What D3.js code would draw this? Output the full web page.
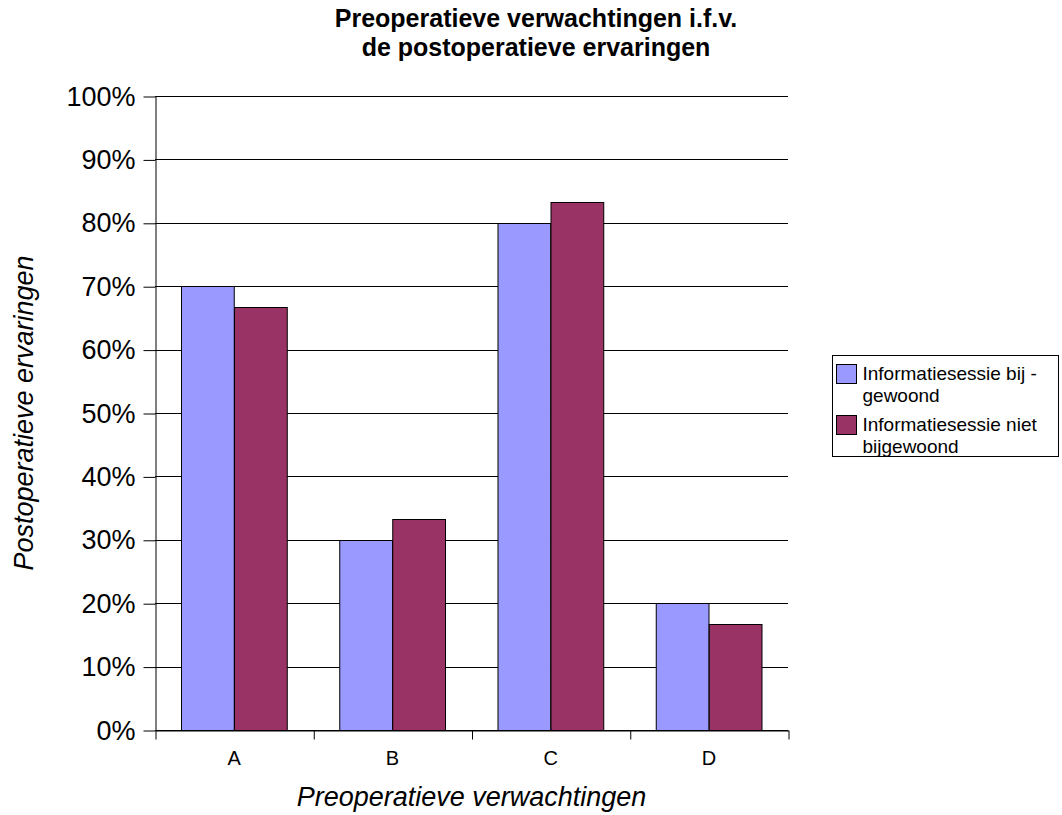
<!DOCTYPE html>
<html>
<head>
<meta charset="utf-8">
<script src="https://cdn.jsdelivr.net/npm/d3@7"></script>
<style>
  html, body { margin: 0; padding: 0; background: #fff; }
  svg { display: block; font-family: "Liberation Sans", Arial, sans-serif; }
</style>
</head>
<body>
<svg id="chart" width="1062" height="815"></svg>
<script>
// Categories of preoperative expectation
const categories = ["A", "B", "C", "D"];
// Series names (legend lines split as displayed)
const seriesNames = ["Informatiesessie bijgewoond", "Informatiesessie niet bijgewoond"];
const legendLines = [["Informatiesessie bij -", "gewoond"], ["Informatiesessie niet", "bijgewoond"]];
// Share per category, per series
const attended = [0.70, 0.30, 0.80, 0.20];
const notAttended = [0.6667, 0.3333, 0.8333, 0.1667];
// Y-axis tick values
const yTicks = [0, 0.1, 0.2, 0.3, 0.4, 0.5, 0.6, 0.7, 0.8, 0.9, 1.0];
const seriesColors = ["#9999FF", "#993366"];

const svg = d3.select("#chart");
const plot = { left: 155, right: 788, top: 96, bottom: 730 };

const y = d3.scaleLinear().domain([0, 1]).range([plot.bottom, plot.top]);
const x = d3.scaleBand().domain(categories).range([plot.left, plot.right]).padding(0);
const bw = x.bandwidth();
const xs = d3.scaleBand().domain([0, 1]).range([bw / 6, bw * 5 / 6]).padding(0);

// Horizontal gridlines
svg.append("g")
  .selectAll("line")
  .data(yTicks)
  .join("line")
  .attr("x1", plot.left)
  .attr("x2", plot.right)
  .attr("y1", d => Math.round(y(d)) + 0.5)
  .attr("y2", d => Math.round(y(d)) + 0.5)
  .attr("stroke", "#000")
  .attr("stroke-width", 1);

// Bars
const rows = categories.map((c, i) => ({ cat: c, values: [attended[i], notAttended[i]] }));
svg.append("g")
  .selectAll("g")
  .data(rows)
  .join("g")
  .attr("transform", d => `translate(${x(d.cat)},0)`)
  .selectAll("rect")
  .data(d => d.values.map((v, k) => ({ v, k })))
  .join("rect")
  .attr("x", d => Math.round(xs(d.k)) + 0.5)
  .attr("y", d => Math.round(y(d.v)) + 0.5)
  .attr("width", xs.bandwidth())
  .attr("height", d => Math.round(y(0)) - Math.round(y(d.v)))
  .attr("fill", d => seriesColors[d.k])
  .attr("stroke", "#000")
  .attr("stroke-width", 1);

// Y axis
const yAxis = svg.append("g")
  .attr("transform", `translate(${plot.left + 0.5},0.5)`)
  .call(d3.axisLeft(y).tickValues(yTicks).tickFormat(d3.format(".0%")).tickSize(12).tickPadding(8).tickSizeOuter(0));
yAxis.selectAll("text").attr("font-size", 27).attr("fill", "#000").attr("font-family", "Liberation Sans, Arial, sans-serif");
yAxis.selectAll("line, path").attr("stroke", "#000");

// X axis: boundary ticks
const xb = d3.scaleLinear().domain([0, categories.length]).range([plot.left, plot.right]);
const xAxisTicks = svg.append("g")
  .attr("transform", `translate(0.5,${plot.bottom + 0.5})`)
  .call(d3.axisBottom(xb).tickValues(d3.range(categories.length + 1)).tickFormat("").tickSize(9).tickSizeOuter(0));
xAxisTicks.selectAll("line, path").attr("stroke", "#000");

// X axis: category labels
const xAxis = svg.append("g")
  .attr("transform", `translate(0,${plot.bottom})`)
  .call(d3.axisBottom(x).tickSize(0).tickPadding(21));
xAxis.select("path").remove();
xAxis.selectAll("text").attr("font-size", 20).attr("fill", "#000").attr("font-family", "Liberation Sans, Arial, sans-serif");

// Title
const title = svg.append("text")
  .attr("text-anchor", "middle")
  .attr("font-size", 25)
  .attr("font-weight", "bold")
  .attr("fill", "#000");
title.append("tspan").attr("x", 536).attr("y", 27).text("Preoperatieve verwachtingen i.f.v.");
title.append("tspan").attr("x", 536).attr("y", 56).text("de postoperatieve ervaringen");

// Axis titles
svg.append("text")
  .attr("x", (plot.left + plot.right) / 2)
  .attr("y", 806)
  .attr("text-anchor", "middle")
  .attr("font-size", 27)
  .attr("font-style", "italic")
  .attr("fill", "#000")
  .text("Preoperatieve verwachtingen");

svg.append("text")
  .attr("transform", `translate(33,${(plot.top + plot.bottom) / 2}) rotate(-90)`)
  .attr("text-anchor", "middle")
  .attr("font-size", 27)
  .attr("font-style", "italic")
  .attr("fill", "#000")
  .text("Postoperatieve ervaringen");

// Legend
const legend = svg.append("g").attr("transform", "translate(832.5,355.5)");
legend.append("rect")
  .attr("width", 226).attr("height", 101)
  .attr("fill", "#fff").attr("stroke", "#000");
const entryY = [0, 51];
seriesNames.forEach((name, i) => {
  const g = legend.append("g").attr("transform", `translate(0,${entryY[i]})`);
  g.append("rect")
    .attr("x", 4).attr("y", 9)
    .attr("width", 20).attr("height", 19)
    .attr("fill", seriesColors[i]).attr("stroke", "#000");
  const t = g.append("text").attr("font-size", 19).attr("fill", "#000");
  legendLines[i].forEach((line, j) => {
    t.append("tspan").attr("x", 30).attr("y", 24.5 + j * 22).text(line);
  });
});
</script>
</body>
</html>
